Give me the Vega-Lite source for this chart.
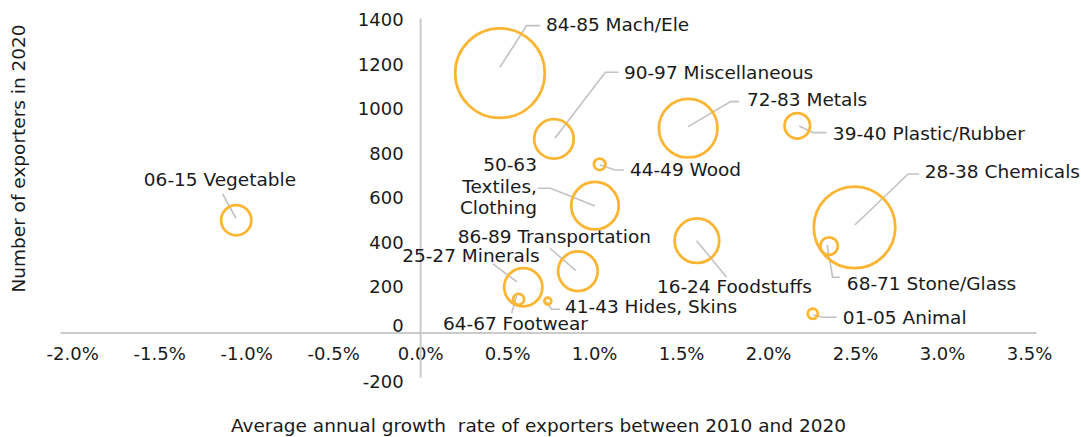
{
  "$schema": "https://vega.github.io/schema/vega-lite/v6.json",
  "width": 976,
  "height": 359,
  "autosize": "none",
  "padding": {"left": 60, "top": 18, "right": 45, "bottom": 60},
  "background": "white",
  "config": {
    "view": {"stroke": null},
    "font": "DejaVu Sans"
  },
  "datasets": {
    "bubbles": [
      {"name": "84-85 Mach/Ele", "g": 0.00459, "n": 1164, "s": 2003},
      {"name": "90-97 Miscellaneous", "g": 0.00769, "n": 869, "s": 390},
      {"name": "44-49 Wood", "g": 0.01032, "n": 755, "s": 33},
      {"name": "50-63 Textiles, Clothing", "g": 0.01005, "n": 569, "s": 564},
      {"name": "72-83 Metals", "g": 0.01541, "n": 917, "s": 856},
      {"name": "39-40 Plastic/Rubber", "g": 0.02168, "n": 928, "s": 163},
      {"name": "28-38 Chemicals", "g": 0.02497, "n": 472, "s": 1661},
      {"name": "68-71 Stone/Glass", "g": 0.02351, "n": 388, "s": 77},
      {"name": "25-27 Minerals", "g": 0.00593, "n": 203, "s": 365},
      {"name": "86-89 Transportation", "g": 0.00907, "n": 275, "s": 392},
      {"name": "64-67 Footwear", "g": 0.00566, "n": 149, "s": 30},
      {"name": "41-43 Hides, Skins", "g": 0.00734, "n": 141, "s": 12},
      {"name": "16-24 Foodstuffs", "g": 0.01591, "n": 412, "s": 497},
      {"name": "01-05 Animal", "g": 0.02257, "n": 84, "s": 26},
      {"name": "06-15 Vegetable", "g": -0.01057, "n": 504, "s": 227}
    ],
    "labels": [
      {"t": "84-85 Mach/Ele", "a": "left", "g": 0.00723, "n": 1381},
      {"t": "90-97 Miscellaneous", "a": "left", "g": 0.011713, "n": 1167},
      {"t": "72-83 Metals", "a": "left", "g": 0.018782, "n": 1044},
      {"t": "39-40 Plastic/Rubber", "a": "left", "g": 0.023724, "n": 889},
      {"t": "44-49 Wood", "a": "left", "g": 0.012057, "n": 730},
      {"t": "28-38 Chemicals", "a": "left", "g": 0.029011, "n": 721},
      {"t": "68-71 Stone/Glass", "a": "left", "g": 0.024529, "n": 218},
      {"t": "01-05 Animal", "a": "left", "g": 0.024299, "n": 65},
      {"t": "41-43 Hides, Skins", "a": "left", "g": 0.008322, "n": 114},
      {"t": "50-63\nTextiles,\nClothing", "a": "right", "g": 0.006713, "n": 750},
      {"t": "06-15 Vegetable", "a": "center", "g": -0.011506, "n": 685},
      {"t": "86-89 Transportation", "a": "center", "g": 0.007718, "n": 429},
      {"t": "25-27 Minerals", "a": "center", "g": 0.00292, "n": 343},
      {"t": "16-24 Foodstuffs", "a": "center", "g": 0.018063, "n": 202},
      {"t": "64-67 Footwear", "a": "center", "g": 0.005477, "n": 38}
    ],
    "leaders": [
      {"k": "mach", "i": 0, "g": 0.006885, "n": 1377.6},
      {"k": "mach", "i": 1, "g": 0.006121, "n": 1377.6},
      {"k": "mach", "i": 2, "g": 0.004586, "n": 1190.8},
      {"k": "misc", "i": 0, "g": 0.011402, "n": 1168.4},
      {"k": "misc", "i": 1, "g": 0.010649, "n": 1168.4},
      {"k": "misc", "i": 2, "g": 0.007747, "n": 872},
      {"k": "metals", "i": 0, "g": 0.018339, "n": 1036.4},
      {"k": "metals", "i": 1, "g": 0.017845, "n": 1036.4},
      {"k": "metals", "i": 2, "g": 0.015408, "n": 924.1},
      {"k": "plastic", "i": 0, "g": 0.023362, "n": 897.2},
      {"k": "plastic", "i": 1, "g": 0.022592, "n": 897.2},
      {"k": "plastic", "i": 2, "g": 0.021787, "n": 927.3},
      {"k": "wood", "i": 0, "g": 0.011713, "n": 729.7},
      {"k": "wood", "i": 1, "g": 0.011195, "n": 729.7},
      {"k": "wood", "i": 2, "g": 0.010333, "n": 752.1},
      {"k": "chem", "i": 0, "g": 0.028684, "n": 711.7},
      {"k": "chem", "i": 1, "g": 0.028052, "n": 711.7},
      {"k": "chem", "i": 2, "g": 0.024989, "n": 482.7},
      {"k": "textiles", "i": 0, "g": 0.006787, "n": 647.5},
      {"k": "textiles", "i": 1, "g": 0.0075, "n": 647.5},
      {"k": "textiles", "i": 2, "g": 0.010046, "n": 568},
      {"k": "veg", "i": 0, "g": -0.011351, "n": 621.9},
      {"k": "veg", "i": 1, "g": -0.010586, "n": 512.8},
      {"k": "transport", "i": 0, "g": 0.00746, "n": 378.1},
      {"k": "transport", "i": 1, "g": 0.008954, "n": 277.5},
      {"k": "minerals", "i": 0, "g": 0.004184, "n": 307.6},
      {"k": "minerals", "i": 1, "g": 0.005563, "n": 226.8},
      {"k": "food", "i": 0, "g": 0.015891, "n": 412.2},
      {"k": "food", "i": 1, "g": 0.017615, "n": 247.9},
      {"k": "stone", "i": 0, "g": 0.023397, "n": 392.9},
      {"k": "stone", "i": 1, "g": 0.023707, "n": 247.9},
      {"k": "stone", "i": 2, "g": 0.024126, "n": 247.9},
      {"k": "animal", "i": 0, "g": 0.022592, "n": 78.6},
      {"k": "animal", "i": 1, "g": 0.023149, "n": 68.3},
      {"k": "animal", "i": 2, "g": 0.023937, "n": 68.3},
      {"k": "hides", "i": 0, "g": 0.00727, "n": 138.3},
      {"k": "hides", "i": 1, "g": 0.007557, "n": 104.2},
      {"k": "hides", "i": 2, "g": 0.008034, "n": 104.2},
      {"k": "footwear", "i": 0, "g": 0.005546, "n": 163.9},
      {"k": "footwear", "i": 1, "g": 0.005259, "n": 86.2}
    ]
  },
  "encoding": {
    "x": {
      "field": "g",
      "type": "quantitative",
      "scale": {"domain": [-0.0207, 0.0354], "nice": false, "zero": false},
      "axis": {
        "orient": "bottom",
        "offset": -44.5,
        "values": [-0.02, -0.015, -0.01, -0.005, 0, 0.005, 0.01, 0.015, 0.02, 0.025, 0.03, 0.035],
        "labelExpr": "(datum.value < 0 ? '-' : '') + format(abs(datum.value), '.1%')",
        "grid": false,
        "ticks": false,
        "tickSize": 0,
        "domainColor": "#cbcbcb",
        "domainWidth": 2,
        "labelFont": "DejaVu Sans",
        "labelFontSize": 18,
        "labelColor": "#1a1a1a",
        "labelBaseline": "middle",
        "labelPadding": 22,
        "labelOverlap": false,
        "labelFlush": false,
        "title": "Average annual growth\u00a0 rate of exporters between 2010 and 2020",
        "titleFont": "DejaVu Sans",
        "titleFontSize": 18.5,
        "titleFontWeight": "normal",
        "titleColor": "#1a1a1a",
        "titleX": 478,
        "titleY": 92.5,
        "titleAlign": "center",
        "titleBaseline": "middle",
        "titleAnchor": null
      }
    },
    "y": {
      "field": "n",
      "type": "quantitative",
      "scale": {"domain": [-200, 1412], "nice": false, "zero": false},
      "axis": {
        "orient": "left",
        "offset": -360.1,
        "values": [-200, 0, 200, 400, 600, 800, 1000, 1200, 1400],
        "labelExpr": "'' + datum.value",
        "grid": false,
        "ticks": false,
        "tickSize": 0,
        "domainColor": "#cbcbcb",
        "domainWidth": 2,
        "labelFont": "DejaVu Sans",
        "labelFontSize": 18,
        "labelColor": "#1a1a1a",
        "labelAlign": "right",
        "labelBaseline": "middle",
        "labelPadding": 17,
        "labelOverlap": false,
        "labelFlush": false,
        "labelOffset": {"condition": [{"test": "datum.value === 0", "value": -6}, {"test": "datum.value === -200", "value": 5}], "value": 0},
        "title": "Number of exporters in 2020",
        "titleFont": "DejaVu Sans",
        "titleFontSize": 18.5,
        "titleFontWeight": "normal",
        "titleColor": "#1a1a1a",
        "titleAngle": -90,
        "titleX": -402,
        "titleY": 140,
        "titleAlign": "center",
        "titleBaseline": "middle",
        "titleAnchor": null
      }
    }
  },
  "layer": [
    {
      "data": {"name": "leaders"},
      "mark": {"type": "line", "color": "#c2c2c2", "strokeWidth": 1.6, "interpolate": "linear"},
      "encoding": {
        "detail": {"field": "k", "type": "nominal"},
        "order": {"field": "i", "type": "quantitative"}
      }
    },
    {
      "data": {"name": "bubbles"},
      "mark": {"type": "point", "shape": "circle", "filled": false, "color": "#FBB533", "strokeWidth": 2.75, "opacity": 1},
      "encoding": {
        "size": {
          "field": "s",
          "type": "quantitative",
          "scale": {"type": "linear", "domain": [0, 2003], "range": [0, 8012], "zero": true},
          "legend": null
        }
      }
    },
    {
      "data": {"name": "labels"},
      "transform": [{"filter": "datum.a === 'left'"}],
      "mark": {"type": "text", "align": "left", "baseline": "middle", "font": "DejaVu Sans", "fontSize": 18.5, "color": "#1a1a1a"},
      "encoding": {"text": {"field": "t"}}
    },
    {
      "data": {"name": "labels"},
      "transform": [{"filter": "datum.a === 'center'"}],
      "mark": {"type": "text", "align": "center", "baseline": "middle", "font": "DejaVu Sans", "fontSize": 18.5, "color": "#1a1a1a"},
      "encoding": {"text": {"field": "t"}}
    },
    {
      "data": {"name": "labels"},
      "transform": [{"filter": "datum.a === 'right'"}],
      "mark": {"type": "text", "align": "right", "baseline": "middle", "font": "DejaVu Sans", "fontSize": 18.5, "color": "#1a1a1a", "lineBreak": "\n", "lineHeight": 21.3},
      "encoding": {"text": {"field": "t"}}
    }
  ]
}
